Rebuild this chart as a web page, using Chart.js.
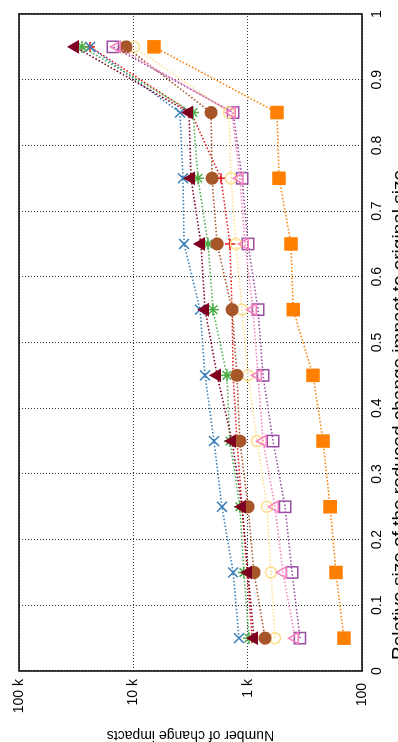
<!DOCTYPE html>
<html>
<head>
<meta charset="utf-8">
<script src="https://cdn.jsdelivr.net/npm/chart.js@4.4.0/dist/chart.umd.min.js"></script>
<style>
  html, body { margin: 0; padding: 0; background: #fff; overflow: hidden; }
  /* the plot is drawn upright and the whole canvas turned a quarter turn */
  #wrap {
    position: absolute; left: 0; top: 0;
    width: 742px; height: 420px;
    transform-origin: 0 0;
    transform: translate(0, 742px) rotate(-90deg);
  }
</style>
</head>
<body>
<div id="wrap"><canvas id="chart" width="742" height="420"></canvas></div>
<script>
// ---------------------- Data ----------------------
const sizeValues = [0.05, 0.15, 0.25, 0.35, 0.45, 0.55, 0.65, 0.75, 0.85, 0.95];

const plusValues           = [915, 1010, 1120, 1240, 1340, 1370, 1430, 1710, 3130, 23900];
const crossValues          = [1190, 1340, 1680, 1970, 2360, 2610, 3600, 3680, 3910, 23900];
const starValues           = [973, 1080, 1170, 1430, 1520, 2010, 2220, 2720, 3010, 28100];
const openSquareValues     = [349, 409, 471, 600, 734, 812, 993, 1120, 1340, 15100];
const filledSquareValues   = [144, 169, 190, 219, 268, 400, 418, 532, 554, 6600];
const openCircleValues     = [577, 625, 678, 828, 993, 1120, 1265, 1400, 1460, 9860];
const filledCircleValues   = [705, 880, 993, 1170, 1240, 1370, 1850, 2050, 2090, 11600];
const openTriangleValues   = [385, 491, 577, 734, 812, 898, 1055, 1170, 1370, 13900];
const filledTriangleValues = [880, 993, 1120, 1370, 1850, 2360, 2560, 3130, 3260, 32400];

const xTickValues = [0, 0.1, 0.2, 0.3, 0.4, 0.5, 0.6, 0.7, 0.8, 0.9, 1];
const xTickLabels = ['0', '0.1', '0.2', '0.3', '0.4', '0.5', '0.6', '0.7', '0.8', '0.9', '1'];
const yTickValues = [100, 1000, 10000, 100000];
const yTickLabels = ['100 ', '1 k', '10 k', '100 k'];

const xTitle = 'Relative size of the reduced change impact to original size';
const yTitle = 'Number of change impacts';

// ---------------------- Styles ----------------------
const FONT = '"Liberation Sans", Arial, Helvetica, sans-serif';
const NONE = 'rgba(0,0,0,0)';

const SERIES = [
  { values: plusValues,           color: '#e41a1c', style: 'cross',    radius: 5,   fill: false },
  { values: crossValues,          color: '#377eb8', style: 'crossRot', radius: 7,   fill: false },
  { values: starValues,           color: '#4daf4a', style: 'star',     radius: 6,   fill: false },
  { values: openSquareValues,     color: '#984ea3', style: 'rect',     radius: 8,   fill: false },
  { values: filledSquareValues,   color: '#ff7f00', style: 'rect',     radius: 8.5, fill: true  },
  { values: openCircleValues,     color: '#fddf8c', style: 'circle',   radius: 5.5, fill: false },
  { values: filledCircleValues,   color: '#a65628', style: 'circle',   radius: 5.8, fill: true  },
  { values: openTriangleValues,   color: '#f781bf', style: 'triangle', radius: 6.5, fill: false },
  { values: filledTriangleValues, color: '#7f0020', style: 'triangle', radius: 6.5, fill: true  },
];

const datasets = SERIES.map((s, i) => ({
  label: 'series ' + (i + 1),
  data: s.values.map((v, j) => ({ x: sizeValues[j], y: v })),
  borderColor: s.color,
  borderWidth: 1.6,
  borderDash: [1.5, 2],
  pointStyle: s.style,
  pointRadius: s.radius,
  pointBorderColor: s.color,
  pointBackgroundColor: s.fill ? s.color : NONE,
  pointBorderWidth: 1.5,
  tension: 0,
  fill: false,
  order: SERIES.length - i,   // later series on top, as in gnuplot
}));

// ---------------------- Frame + x label plugin ----------------------
const framePlugin = {
  id: 'frame',
  afterDraw(chart) {
    const { ctx, chartArea: a } = chart;
    ctx.save();
    ctx.strokeStyle = '#000';
    ctx.lineWidth = 1.5;
    ctx.strokeRect(a.left, a.top, a.right - a.left, a.bottom - a.top);
    // x label sits a little off-centre and runs past the bottom edge
    ctx.fillStyle = '#000';
    ctx.font = '19px ' + FONT;
    ctx.textAlign = 'left';
    ctx.textBaseline = 'middle';
    ctx.fillText(xTitle, a.left + 11, a.bottom + 38);
    ctx.restore();
  },
};

const gridOpts = { color: 'rgba(0,0,0,0.8)', lineWidth: 1, drawTicks: false };

new Chart(document.getElementById('chart'), {
  type: 'line',
  data: { datasets },
  options: {
    responsive: false,
    animation: false,
    events: [],
    layout: { padding: { top: 19, right: 14, left: 0, bottom: 0 } },
    plugins: { legend: { display: false }, tooltip: { enabled: false } },
    scales: {
      x: {
        type: 'linear',
        min: 0,
        max: 1,
        afterBuildTicks: (scale) => { scale.ticks = xTickValues.map(v => ({ value: v })); },
        afterFit: (scale) => { scale.height = 58; },
        ticks: {
          padding: 7,
          maxRotation: 0,
          autoSkip: false,
          color: '#000',
          font: { family: FONT, size: 14 },
          callback: (v, i) => xTickLabels[i],
        },
        grid: gridOpts,
        border: { display: false, dash: [1, 2] },
      },
      y: {
        type: 'logarithmic',
        min: 100,
        max: 100000,
        afterBuildTicks: (scale) => { scale.ticks = yTickValues.map(v => ({ value: v })); },
        afterFit: (scale) => { scale.width = 71; },
        ticks: {
          padding: 8,
          autoSkip: false,
          color: '#000',
          font: { family: FONT, size: 14 },
          callback: (v) => {
            const k = yTickValues.indexOf(v);
            return k >= 0 ? yTickLabels[k] : '';
          },
        },
        grid: gridOpts,
        border: { display: false, dash: [1, 2] },
        title: {
          display: true,
          text: yTitle,
          color: '#000',
          font: { family: FONT, size: 14 },
          padding: { top: -1, bottom: 0 },
        },
      },
    },
  },
  plugins: [framePlugin],
});
</script>
</body>
</html>
